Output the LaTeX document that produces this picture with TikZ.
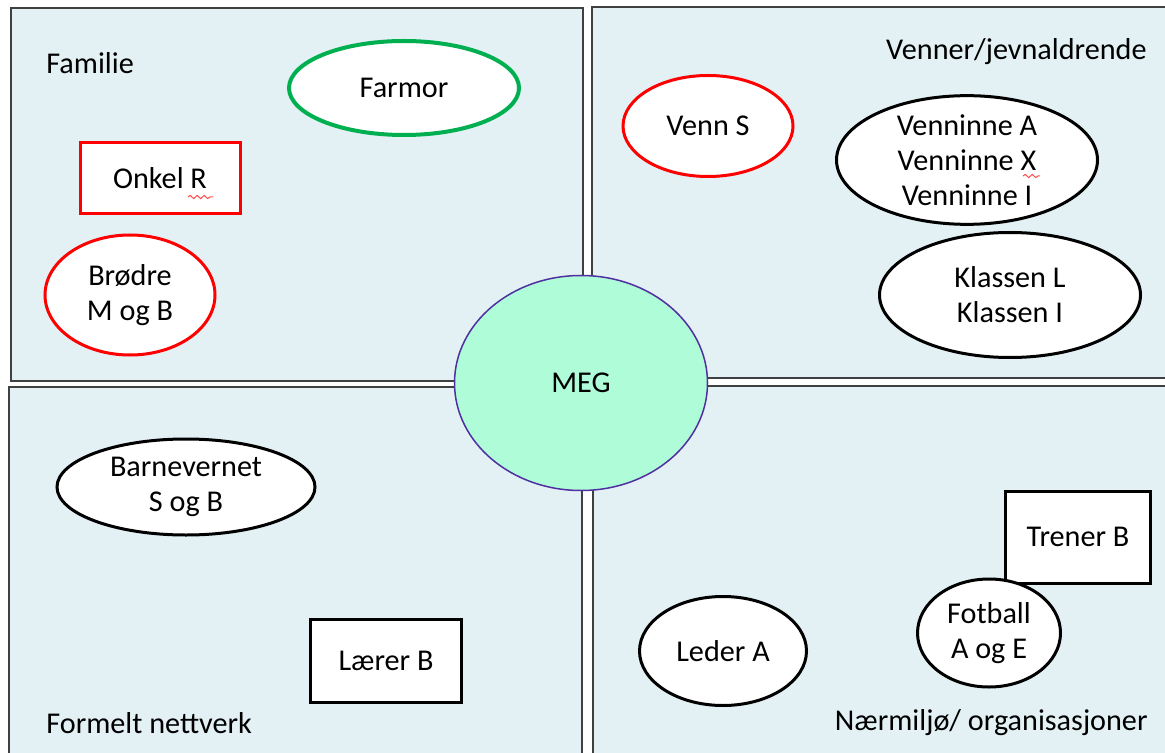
\documentclass[tikz,border=0pt]{standalone}
\usepackage{fontspec}
\setmainfont{Carlito}
\usetikzlibrary{shapes.geometric,decorations.pathmorphing}

\definecolor{sectorblue}{RGB}{227,241,245}
\definecolor{megfill}{RGB}{174,252,216}
\definecolor{megline}{RGB}{80,48,160}
\definecolor{farmorgreen}{RGB}{0,176,80}
\definecolor{markred}{RGB}{255,0,0}

\tikzset{
  txt/.style={font=\fontsize{15.1}{17.5}\selectfont, align=center, inner sep=0pt},
  sector/.style={draw=black!75, line width=0.75pt, fill=sectorblue},
  person/.style={txt, ellipse, draw=black, line width=1.5pt, fill=white},
  closeperson/.style={person, draw=markred},
  tiebox/.style={txt, rectangle, draw=black, line width=1.5pt, fill=white},
  spellmark/.style={draw=markred!70, line width=0.5pt, decorate,
    decoration={snake, amplitude=0.8pt, segment length=3.5pt}}
}

\begin{document}
\begin{tikzpicture}[x=0.5pt, y=-0.5pt]
    \useasboundingbox (0,0) rectangle (1165,753);
    \fill[white] (0,0) rectangle (1165,753);

    % the four sectors
    \begin{scope}
    \clip (0,0) rectangle (1165,753);
    \draw[sector] (11,8) rectangle (583,381);
    \draw[sector] (592,7) rectangle (1175,378);
    \draw[sector] (9,387) rectangle (582,765);
    \draw[sector] (593,386) rectangle (1175,765);
    \end{scope}

    \node[txt, anchor=west] (familie) at (46,63) {Familie};
    \node[txt, anchor=east] (venner) at (1147,52) {Venner/jevnaldrende};
    \node[txt, anchor=west] (formelt) at (46,723) {Formelt nettverk};
    \node[txt, anchor=east] (naermiljo) at (1148,723) {Nærmiljø/ organisasjoner};

    % familie
    \node[person, draw=farmorgreen, line width=2pt, minimum width=115pt, minimum height=47pt] (farmor) at (404,88) {Farmor};
    \node[tiebox, draw=markred, minimum width=80pt, minimum height=35.5pt] (onkel) at (160,178) {Onkel R};
    \node[closeperson, minimum width=85pt, minimum height=60pt] (brodre) at (130,295) {Brødre\\M og B};

    % venner
    \node[closeperson, minimum width=85pt, minimum height=50.5pt] (vennS) at (708,126) {Venn S};
    \node[person, minimum width=130.5pt, minimum height=62pt] (venninne) at (967,160) {Venninne A\\Venninne X\\Venninne I};
    \node[person, minimum width=130.5pt, minimum height=62.5pt] (klassen) at (1010,295) {Klassen L\\Klassen I};

    % formelt nettverk
    \node[person, minimum width=129pt, minimum height=48pt] (barnevern) at (186,487) {Barnevernet\\S og B};
    \node[tiebox, minimum width=75.5pt, minimum height=41.5pt] (laerer) at (386,661) {Lærer B};

    % naermiljo
    \node[person, minimum width=83.5pt, minimum height=54.5pt] (leder) at (723,651) {Leder A};
    \node[tiebox, minimum width=72.5pt, minimum height=46pt] (trener) at (1078,537) {Trener B};
    \node[person, minimum width=71.5pt, minimum height=54pt] (fotball) at (989,633) {Fotball\\A og E};

    % meg
    \node[txt, ellipse, draw=megline, line width=0.75pt, fill=megfill, minimum width=126.5pt, minimum height=107.5pt] (meg) at (581,383) {MEG};

    % spell check marks
    \draw[spellmark] (188,197) -- (213,197);
    \draw[spellmark] (1023,176) -- (1040,176);
\end{tikzpicture}
\end{document}
